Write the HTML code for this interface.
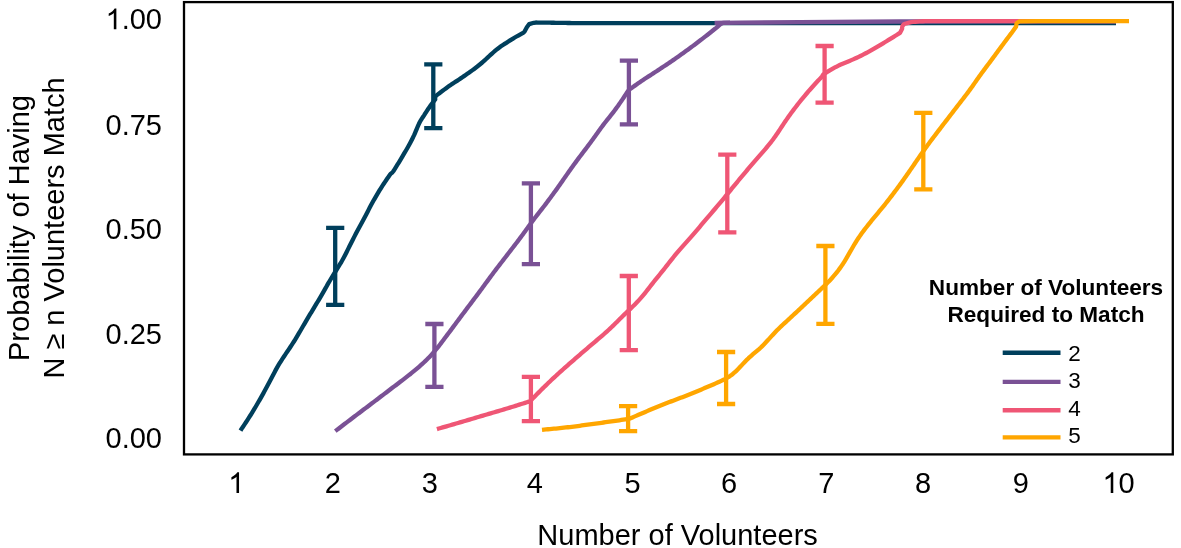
<!DOCTYPE html>
<html><head><meta charset="utf-8"><style>
html,body{margin:0;padding:0;background:#fff;}
body{width:1181px;height:548px;overflow:hidden;}
svg{display:block;will-change:transform;}
text{font-family:"Liberation Sans",sans-serif;fill:#000;}
.t29{font-size:29px;}
.t22{font-size:22.5px;}
.tb{font-size:22.6px;font-weight:bold;}
</style></head><body>
<svg width="1181" height="548" viewBox="0 0 1181 548">
<rect x="184" y="2.1" width="988.8" height="452.3" fill="none" stroke="#000" stroke-width="2.3"/>
<polyline points="240.50,430.60 241.54,428.90 242.67,427.24 243.78,425.58 244.89,423.91 245.99,422.24 247.08,420.56 248.17,418.88 249.24,417.20 250.31,415.50 251.37,413.81 252.42,412.11 253.46,410.40 254.50,408.69 255.52,406.98 256.53,405.25 257.54,403.52 258.54,401.79 259.53,400.06 260.53,398.32 261.51,396.58 262.49,394.84 263.47,393.09 264.43,391.34 265.39,389.58 266.34,387.82 267.28,386.06 268.22,384.30 269.16,382.53 270.08,380.76 271.01,378.98 271.93,377.21 272.85,375.43 273.78,373.66 274.71,371.89 275.65,370.13 276.62,368.38 277.60,366.64 278.61,364.92 279.65,363.21 280.71,361.52 281.79,359.83 282.89,358.16 283.99,356.49 285.10,354.83 286.22,353.17 287.34,351.52 288.46,349.86 289.58,348.20 290.69,346.54 291.79,344.87 292.88,343.19 293.95,341.50 295.01,339.81 296.04,338.10 297.07,336.38 298.09,334.66 299.10,332.94 300.11,331.21 301.12,329.48 302.13,327.76 303.14,326.03 304.14,324.30 305.15,322.58 306.16,320.85 307.18,319.13 308.20,317.41 309.23,315.69 310.26,313.98 311.30,312.27 312.33,310.56 313.36,308.84 314.40,307.13 315.43,305.42 316.46,303.70 317.49,301.99 318.52,300.28 319.55,298.56 320.58,296.84 321.59,295.12 322.60,293.40 323.60,291.66 324.58,289.92 325.56,288.17 326.53,286.42 327.51,284.68 328.51,282.95 329.52,281.23 330.54,279.51 331.57,277.80 332.61,276.10 333.66,274.40 334.71,272.70 335.77,271.01 336.83,269.32 337.89,267.63 338.94,265.93 339.98,264.23 341.01,262.52 342.02,260.79 343.00,259.06 343.96,257.30 344.88,255.53 345.79,253.75 346.68,251.96 347.57,250.16 348.45,248.36 349.34,246.57 350.23,244.78 351.13,242.99 352.02,241.21 352.93,239.42 353.84,237.64 354.75,235.86 355.68,234.09 356.61,232.32 357.56,230.56 358.51,228.80 359.46,227.04 360.42,225.29 361.38,223.53 362.32,221.77 363.27,220.01 364.21,218.24 365.15,216.47 366.07,214.70 366.99,212.92 367.90,211.15 368.82,209.37 369.74,207.59 370.68,205.83 371.62,204.07 372.59,202.32 373.56,200.57 374.56,198.84 375.56,197.11 376.58,195.39 377.60,193.67 378.62,191.95 379.65,190.21 380.70,188.52 381.77,186.84 382.85,185.17 383.94,183.51 385.04,181.86 386.15,180.21 387.27,178.58 388.41,176.96 389.55,175.34 390.71,173.74 392.10,172.80 393.32,171.23 394.40,169.54 395.47,167.85 396.53,166.16 397.58,164.46 398.63,162.76 399.67,161.05 400.71,159.34 401.74,157.63 402.76,155.91 403.77,154.19 404.79,152.46 405.81,150.74 406.83,149.02 407.83,147.29 408.80,145.55 409.76,143.79 410.69,142.03 411.60,140.25 412.49,138.47 413.37,136.67 414.22,134.86 415.02,133.03 415.80,131.18 416.57,129.32 417.33,127.45 418.11,125.60 418.95,123.79 419.85,122.02 420.81,120.30 421.85,118.63 422.94,117.00 424.07,115.37 425.10,113.71 426.15,112.06 427.22,110.42 428.31,108.80 429.42,107.20 430.54,105.61 431.68,104.03 432.84,102.48 434.02,100.93 435.22,99.41 435.10,97.30 436.27,95.58 437.84,94.37 439.42,93.17 441.01,91.98 442.60,90.79 444.20,89.61 445.81,88.44 447.42,87.28 449.05,86.12 450.68,84.98 452.31,83.84 454.00,82.76 455.69,81.69 457.38,80.61 459.06,79.51 460.71,78.39 462.36,77.26 464.01,76.13 465.66,74.99 467.30,73.85 468.94,72.70 470.57,71.54 472.19,70.37 473.81,69.19 475.41,67.99 477.00,66.78 478.57,65.55 480.12,64.29 481.64,63.00 483.15,61.68 484.63,60.34 486.10,58.99 487.57,57.63 489.04,56.27 490.50,54.91 491.98,53.57 493.47,52.24 494.98,50.94 496.52,49.67 498.08,48.44 499.67,47.25 501.29,46.08 502.93,44.96 504.61,43.88 506.32,42.83 507.99,41.74 509.67,40.66 511.35,39.60 513.06,38.56 514.77,37.53 516.49,36.52 518.23,35.53 519.98,34.56 521.74,33.60 523.51,32.66 524.70,31.30 527.00,27.00 529.20,24.10 533.80,22.80 535.79,22.51 537.79,22.54 539.79,22.57 541.78,22.60 543.78,22.63 545.78,22.65 547.78,22.68 549.77,22.71 551.77,22.74 553.77,22.77 555.77,22.80 557.77,22.85 559.79,22.89 561.78,22.92 563.77,22.95 565.76,22.97 567.75,23.00 569.74,23.02 571.72,23.03 573.70,23.05 575.68,23.06 577.66,23.07 579.64,23.08 580.00,23.10 1116.00,23.10" fill="none" stroke="#003f5c" stroke-width="4.3" stroke-linejoin="round" stroke-linecap="butt"/>
<path d="M335.2,227.8V304.8M326.1,227.8H344.3M326.1,304.8H344.3" fill="none" stroke="#003f5c" stroke-width="4.3"/>
<path d="M433.3,64.3V128.1M424.2,64.3H442.4M424.2,128.1H442.4" fill="none" stroke="#003f5c" stroke-width="4.3"/>
<polyline points="335.30,431.10 336.89,429.89 338.48,428.68 340.07,427.46 341.66,426.25 343.25,425.04 344.84,423.83 346.44,422.62 348.03,421.40 349.62,420.19 351.21,418.98 352.81,417.78 354.40,416.57 355.99,415.36 357.59,414.15 359.18,412.94 360.78,411.74 362.37,410.53 363.97,409.33 365.57,408.12 367.16,406.92 368.76,405.71 370.35,404.51 371.95,403.30 373.54,402.09 375.14,400.89 376.73,399.68 378.33,398.47 379.92,397.26 381.51,396.05 383.11,394.84 384.70,393.63 386.29,392.42 387.88,391.21 389.47,390.00 391.07,388.79 392.66,387.58 394.25,386.37 395.85,385.17 397.45,383.97 399.05,382.76 400.64,381.55 402.23,380.34 403.82,379.12 405.40,377.90 406.97,376.67 408.54,375.43 410.11,374.19 411.67,372.93 413.22,371.67 414.77,370.40 416.30,369.12 417.82,367.82 419.33,366.51 420.83,365.19 422.32,363.85 423.80,362.50 425.26,361.13 426.69,359.74 428.11,358.33 429.50,356.90 430.87,355.45 432.21,353.97 433.53,352.47 434.83,350.95 436.10,349.42 437.36,347.86 438.60,346.30 439.84,344.72 441.06,343.14 442.27,341.55 443.47,339.95 444.67,338.34 445.87,336.74 447.07,335.14 448.27,333.54 449.47,331.94 450.67,330.34 451.86,328.73 453.05,327.13 454.24,325.52 455.43,323.91 456.62,322.31 457.82,320.70 459.01,319.10 460.21,317.49 461.40,315.89 462.60,314.29 463.80,312.69 465.00,311.09 466.20,309.49 467.40,307.89 468.61,306.29 469.81,304.70 471.01,303.10 472.21,301.50 473.42,299.90 474.62,298.31 475.82,296.71 477.02,295.11 478.22,293.51 479.42,291.90 480.60,290.29 481.79,288.68 482.97,287.07 484.15,285.45 485.33,283.84 486.51,282.23 487.70,280.61 488.88,279.00 490.07,277.39 491.26,275.79 492.45,274.18 493.65,272.58 494.85,270.98 496.06,269.39 497.27,267.80 498.49,266.21 499.71,264.63 500.93,263.04 502.16,261.46 503.38,259.88 504.60,258.29 505.82,256.71 507.04,255.12 508.26,253.54 509.47,251.95 510.69,250.37 511.92,248.78 513.14,247.20 514.36,245.62 515.59,244.04 516.81,242.45 518.02,240.86 519.23,239.27 520.44,237.67 521.63,236.07 522.81,234.46 523.99,232.84 525.17,231.22 526.34,229.60 527.51,227.98 528.68,226.36 529.86,224.75 531.04,223.14 532.23,221.53 533.43,219.93 534.63,218.33 535.84,216.74 537.06,215.16 538.29,213.58 539.51,212.00 540.75,210.42 541.98,208.85 543.21,207.27 544.43,205.69 545.65,204.10 546.86,202.51 548.06,200.91 549.25,199.30 550.44,197.69 551.62,196.08 552.81,194.47 553.98,192.85 555.16,191.24 556.33,189.62 557.50,187.99 558.66,186.36 559.81,184.72 560.95,183.08 562.09,181.44 563.23,179.80 564.37,178.15 565.52,176.51 566.66,174.88 567.81,173.24 568.97,171.61 570.12,169.98 571.28,168.35 572.44,166.72 573.61,165.09 574.78,163.47 575.96,161.86 577.14,160.24 578.33,158.64 579.53,157.04 580.74,155.44 581.95,153.85 583.16,152.26 584.37,150.67 585.58,149.08 586.79,147.48 587.99,145.89 589.19,144.29 590.38,142.68 591.57,141.08 592.76,139.47 593.93,137.85 595.10,136.23 596.27,134.60 597.43,132.98 598.59,131.35 599.75,129.72 600.92,128.10 602.11,126.49 603.30,124.89 604.51,123.29 605.73,121.71 606.97,120.14 608.23,118.58 609.49,117.03 610.75,115.47 611.99,113.91 613.22,112.33 614.42,110.73 615.60,109.12 616.77,107.50 617.94,105.89 619.09,104.26 620.24,102.63 621.37,101.00 622.49,99.35 623.60,97.70 624.69,96.04 625.78,94.38 626.85,92.71 627.91,91.03 628.70,90.60 630.05,89.09 631.67,87.93 633.30,86.77 634.93,85.62 636.56,84.47 638.20,83.33 639.84,82.19 641.49,81.06 643.14,79.94 644.80,78.82 646.46,77.71 648.15,76.63 649.84,75.56 651.52,74.48 653.20,73.39 654.87,72.30 656.55,71.21 658.22,70.11 659.90,69.02 661.57,67.91 663.23,66.81 664.90,65.71 666.56,64.60 668.23,63.48 669.88,62.36 671.54,61.24 673.19,60.11 674.83,58.97 676.48,57.83 678.11,56.68 679.75,55.53 681.38,54.37 683.00,53.20 684.62,52.03 686.24,50.86 687.85,49.68 689.46,48.49 691.07,47.30 692.67,46.10 694.28,44.91 695.88,43.71 697.48,42.50 699.07,41.30 700.69,40.07 702.27,38.86 703.84,37.64 705.42,36.42 706.98,35.20 708.54,33.98 710.10,32.75 711.65,31.52 713.19,30.28 714.73,29.04 716.27,27.80 717.20,27.00 720.50,24.20 723.00,22.80 740.00,22.70 800.00,22.20 900.00,21.50 1116.00,21.40" fill="none" stroke="#7a5195" stroke-width="4.3" stroke-linejoin="round" stroke-linecap="butt"/>
<line x1="714.6" y1="22.8" x2="730" y2="22.75" stroke="#7a5195" stroke-width="4.3"/>
<path d="M434.4,324.0V386.8M425.3,324.0H443.5M425.3,386.8H443.5" fill="none" stroke="#7a5195" stroke-width="4.3"/>
<path d="M530.9,183.3V264.2M521.8,183.3H540.0M521.8,264.2H540.0" fill="none" stroke="#7a5195" stroke-width="4.3"/>
<path d="M628.9,60.6V124.4M619.8,60.6H638.0M619.8,124.4H638.0" fill="none" stroke="#7a5195" stroke-width="4.3"/>
<polyline points="436.90,429.10 438.82,428.54 440.74,427.99 442.66,427.43 444.58,426.88 446.51,426.32 448.43,425.76 450.35,425.20 452.27,424.65 454.19,424.09 456.11,423.53 458.03,422.97 459.95,422.40 461.87,421.84 463.79,421.28 465.70,420.71 467.62,420.15 469.54,419.58 471.46,419.02 473.38,418.45 475.29,417.88 477.21,417.31 479.13,416.74 481.05,416.18 482.97,415.61 484.88,415.04 486.80,414.48 488.72,413.91 490.64,413.35 492.56,412.78 494.47,412.21 496.39,411.65 498.31,411.08 500.23,410.51 502.14,409.94 504.06,409.37 505.98,408.79 507.89,408.22 509.83,407.63 511.73,407.04 513.64,406.46 515.54,405.86 517.44,405.27 519.33,404.67 521.23,404.07 523.12,403.47 525.01,402.87 526.89,402.26 528.78,401.65 530.10,401.20 531.52,399.79 532.90,398.35 534.30,396.91 535.69,395.48 537.10,394.05 538.50,392.63 539.91,391.21 541.33,389.80 542.75,388.40 544.18,386.99 545.61,385.60 547.04,384.20 548.48,382.81 549.92,381.43 551.37,380.05 552.83,378.68 554.29,377.31 555.76,375.96 557.23,374.60 558.71,373.26 560.20,371.92 561.69,370.59 563.18,369.26 564.68,367.93 566.17,366.60 567.67,365.28 569.17,363.96 570.68,362.64 572.19,361.33 573.70,360.01 575.21,358.71 576.72,357.40 578.23,356.09 579.75,354.78 581.26,353.47 582.78,352.17 584.29,350.87 585.81,349.56 587.33,348.26 588.85,346.96 590.37,345.66 591.89,344.36 593.42,343.07 594.95,341.78 596.48,340.50 598.01,339.21 599.54,337.92 601.06,336.62 602.58,335.32 604.08,334.00 605.58,332.68 607.07,331.35 608.55,330.00 610.01,328.64 611.46,327.27 612.90,325.88 614.33,324.49 615.76,323.08 617.18,321.67 618.59,320.26 620.01,318.84 621.42,317.43 622.84,316.02 624.27,314.62 625.71,313.23 627.16,311.86 628.62,310.48 630.07,309.11 631.52,307.72 632.95,306.33 634.37,304.93 635.78,303.51 637.16,302.07 638.52,300.61 639.86,299.14 641.18,297.64 642.47,296.12 643.75,294.58 645.01,293.03 646.26,291.47 647.49,289.90 648.72,288.32 649.94,286.73 651.17,285.15 652.40,283.57 653.65,282.01 654.90,280.45 656.16,278.90 657.41,277.34 658.67,275.79 659.93,274.23 661.19,272.68 662.44,271.12 663.70,269.56 664.94,268.00 666.18,266.43 667.41,264.85 668.65,263.27 669.88,261.70 671.11,260.13 672.35,258.56 673.60,257.00 674.86,255.44 676.12,253.89 677.40,252.36 678.69,250.83 680.00,249.32 681.32,247.82 682.64,246.32 683.98,244.83 685.32,243.34 686.66,241.86 687.99,240.37 689.33,238.89 690.66,237.39 691.98,235.89 693.29,234.38 694.60,232.86 695.89,231.34 697.19,229.82 698.48,228.29 699.76,226.76 701.05,225.22 702.33,223.69 703.62,222.16 704.91,220.63 706.20,219.11 707.50,217.59 708.81,216.07 710.11,214.55 711.41,213.04 712.72,211.52 714.02,210.00 715.32,208.49 716.62,206.96 717.91,205.44 719.20,203.91 720.49,202.38 721.77,200.84 723.05,199.30 724.32,197.76 725.59,196.22 726.86,194.67 728.12,193.12 729.39,191.57 730.66,190.02 731.92,188.48 733.19,186.93 734.46,185.38 735.73,183.84 737.00,182.29 738.27,180.75 739.54,179.21 740.82,177.67 742.10,176.13 743.38,174.59 744.66,173.06 745.95,171.53 747.24,170.00 748.53,168.47 749.82,166.95 751.12,165.42 752.42,163.90 753.72,162.38 755.02,160.87 756.33,159.35 757.63,157.83 758.94,156.32 760.25,154.81 761.57,153.31 762.89,151.80 764.21,150.30 765.52,148.79 766.82,147.27 768.10,145.73 769.37,144.19 770.62,142.63 771.84,141.05 773.04,139.46 774.22,137.85 775.37,136.22 776.51,134.58 777.63,132.93 778.74,131.27 779.85,129.60 780.94,127.93 782.04,126.25 783.14,124.58 784.25,122.91 785.36,121.25 786.50,119.61 787.64,117.97 788.80,116.33 789.96,114.71 791.14,113.09 792.33,111.48 793.53,109.89 794.74,108.29 795.95,106.70 797.17,105.12 798.40,103.54 799.63,101.97 800.89,100.41 802.15,98.86 803.42,97.32 804.70,95.78 806.00,94.26 807.30,92.74 808.60,91.22 809.92,89.72 811.24,88.22 812.56,86.72 813.90,85.24 815.24,83.76 816.60,82.29 817.95,80.82 819.32,79.36 820.70,77.91 822.00,76.50 823.15,74.64 824.79,73.54 826.44,72.47 828.11,71.43 829.80,70.40 831.50,69.40 833.22,68.42 834.95,67.47 836.69,66.53 838.45,65.62 840.22,64.74 842.07,63.97 843.94,63.22 845.80,62.48 847.66,61.72 849.50,60.94 851.33,60.15 853.17,59.36 855.00,58.55 856.82,57.72 858.63,56.87 860.43,56.00 862.22,55.11 864.00,54.20 865.77,53.28 867.54,52.34 869.30,51.40 871.04,50.44 872.78,49.46 874.51,48.46 876.23,47.44 877.95,46.42 879.66,45.39 881.37,44.35 883.10,43.31 884.81,42.28 886.51,41.24 888.21,40.21 889.90,39.17 891.59,38.13 893.28,37.08 894.96,36.03 896.63,34.98 898.31,33.92 899.97,32.86 900.20,32.60 902.00,29.10 902.40,26.00 904.20,24.00 909.30,22.60 911.27,22.22 913.25,21.97 915.23,21.75 917.22,21.57 919.21,21.43 921.21,21.34 923.20,21.26 925.18,21.20 927.17,21.18 929.15,21.18 930.00,21.10 1116.00,21.10" fill="none" stroke="#ef5675" stroke-width="4.3" stroke-linejoin="round" stroke-linecap="butt"/>
<path d="M530.9,376.8V421.2M521.8,376.8H540.0M521.8,421.2H540.0" fill="none" stroke="#ef5675" stroke-width="4.3"/>
<path d="M628.8,276.0V350.1M619.7,276.0H637.9M619.7,350.1H637.9" fill="none" stroke="#ef5675" stroke-width="4.3"/>
<path d="M727.3,154.6V232.4M718.2,154.6H736.4M718.2,232.4H736.4" fill="none" stroke="#ef5675" stroke-width="4.3"/>
<path d="M824.6,46.0V102.6M815.5,46.0H833.7M815.5,102.6H833.7" fill="none" stroke="#ef5675" stroke-width="4.3"/>
<polyline points="542.00,429.80 543.99,429.58 545.98,429.42 547.97,429.25 549.97,429.08 551.96,428.90 553.95,428.71 555.94,428.52 557.93,428.32 559.92,428.12 561.91,427.91 563.90,427.70 565.89,427.48 567.87,427.26 569.86,427.03 571.85,426.79 573.83,426.55 575.81,426.29 577.80,426.03 579.78,425.76 581.76,425.48 583.74,425.20 585.72,424.92 587.70,424.65 589.68,424.38 591.67,424.12 593.65,423.85 595.63,423.58 597.61,423.31 599.59,423.04 601.57,422.77 603.56,422.50 605.54,422.23 607.54,421.96 609.51,421.68 611.49,421.40 613.46,421.12 615.43,420.84 617.40,420.55 619.37,420.27 621.33,419.98 623.30,419.69 625.26,419.40 627.22,419.11 628.70,418.90 630.59,418.24 632.43,417.44 634.26,416.64 636.09,415.85 637.93,415.06 639.77,414.27 641.61,413.48 643.45,412.69 645.29,411.91 647.13,411.13 648.97,410.35 650.80,409.56 652.64,408.76 654.48,407.98 656.32,407.20 658.17,406.44 660.02,405.69 661.88,404.95 663.74,404.22 665.61,403.50 667.48,402.79 669.35,402.08 671.22,401.38 673.09,400.68 674.97,399.98 676.84,399.28 678.71,398.57 680.58,397.86 682.44,397.13 684.31,396.41 686.17,395.68 688.03,394.94 689.89,394.21 691.74,393.46 693.60,392.71 695.45,391.96 697.30,391.20 699.15,390.44 701.00,389.67 702.84,388.89 704.68,388.10 706.52,387.31 708.36,386.53 710.20,385.75 712.04,384.96 713.87,384.16 715.71,383.37 717.55,382.56 719.39,381.74 721.20,380.90 723.01,380.02 724.79,379.12 726.54,378.16 728.26,377.16 729.93,376.08 731.53,374.94 733.08,373.72 734.59,372.44 736.05,371.11 737.47,369.72 738.86,368.30 740.23,366.84 741.58,365.38 742.94,363.91 744.30,362.46 745.68,361.01 747.07,359.58 748.51,358.20 749.98,356.86 751.48,355.54 752.99,354.23 754.52,352.94 756.05,351.66 757.58,350.37 759.09,349.06 760.56,347.71 761.99,346.33 763.40,344.92 764.79,343.49 766.16,342.04 767.52,340.58 768.87,339.11 770.21,337.63 771.55,336.15 772.90,334.68 774.25,333.21 775.62,331.75 777.01,330.32 778.43,328.91 779.87,327.52 781.32,326.15 782.78,324.78 784.25,323.42 785.73,322.07 787.20,320.72 788.68,319.37 790.14,318.01 791.61,316.65 793.08,315.29 794.54,313.93 796.01,312.57 797.47,311.20 798.93,309.84 800.39,308.47 801.85,307.10 803.30,305.73 804.76,304.36 806.21,302.99 807.67,301.62 809.13,300.25 810.59,298.88 812.05,297.51 813.51,296.14 814.96,294.77 816.42,293.40 817.88,292.04 819.34,290.67 820.80,289.30 822.25,287.92 823.69,286.53 825.12,285.13 826.55,283.73 827.96,282.31 829.35,280.88 830.72,279.42 832.07,277.95 833.39,276.45 834.69,274.93 835.96,273.40 837.21,271.84 838.44,270.26 839.63,268.65 840.79,267.03 841.92,265.38 843.03,263.72 844.10,262.03 845.15,260.33 846.18,258.62 847.19,256.89 848.19,255.16 849.18,253.42 850.17,251.69 851.17,249.95 852.17,248.22 853.17,246.49 854.19,244.77 855.22,243.06 856.28,241.36 857.36,239.69 858.47,238.02 859.60,236.37 860.74,234.74 861.91,233.11 863.09,231.50 864.29,229.90 865.51,228.31 866.73,226.73 867.96,225.15 869.20,223.58 870.46,222.03 871.72,220.48 872.99,218.93 874.26,217.39 875.54,215.84 876.81,214.30 878.09,212.77 879.37,211.23 880.65,209.69 881.92,208.15 883.19,206.60 884.44,205.04 885.69,203.48 886.92,201.91 888.16,200.33 889.38,198.75 890.61,197.17 891.82,195.58 893.03,193.99 894.24,192.40 895.44,190.80 896.64,189.20 897.83,187.59 899.01,185.98 900.19,184.36 901.36,182.74 902.53,181.12 903.69,179.49 904.85,177.86 906.00,176.22 907.14,174.58 908.28,172.94 909.42,171.29 910.55,169.65 911.69,168.00 912.82,166.35 913.94,164.70 915.07,163.04 916.19,161.39 917.32,159.74 918.45,158.09 919.59,156.45 920.74,154.81 921.88,153.17 923.04,151.54 924.20,149.91 925.36,148.28 926.53,146.66 927.70,145.04 928.88,143.43 930.08,141.82 931.28,140.23 932.48,138.63 933.70,137.04 934.91,135.45 936.12,133.86 937.33,132.27 938.54,130.67 939.76,129.08 940.97,127.49 942.19,125.91 943.40,124.32 944.62,122.73 945.84,121.15 947.06,119.57 948.28,117.98 949.50,116.40 950.72,114.81 951.94,113.22 953.16,111.64 954.37,110.05 955.59,108.46 956.81,106.88 958.03,105.29 959.26,103.71 960.48,102.13 961.71,100.55 962.94,98.97 964.16,97.39 965.37,95.80 966.58,94.21 967.78,92.61 968.97,91.00 970.14,89.38 971.31,87.76 972.47,86.13 973.62,84.50 974.77,82.86 975.92,81.23 977.07,79.59 978.23,77.96 979.39,76.33 980.55,74.70 981.72,73.08 982.90,71.47 984.09,69.86 985.28,68.25 986.48,66.65 987.68,65.05 988.88,63.45 990.08,61.85 991.27,60.25 992.47,58.64 993.65,57.03 994.84,55.42 996.02,53.81 997.20,52.19 998.39,50.57 999.58,48.96 1000.77,47.36 1001.95,45.76 1003.14,44.16 1004.33,42.56 1005.51,40.97 1006.70,39.37 1007.89,37.78 1009.08,36.19 1010.26,34.60 1011.20,33.40 1016.00,26.80 1016.60,23.30 1019.50,21.30 1038.00,21.20 1129.00,21.20" fill="none" stroke="#ffa600" stroke-width="4.3" stroke-linejoin="round" stroke-linecap="butt"/>
<path d="M628.1,406.2V431.2M619.0,406.2H637.2M619.0,431.2H637.2" fill="none" stroke="#ffa600" stroke-width="4.3"/>
<path d="M726.1,352.0V404.0M717.0,352.0H735.2M717.0,404.0H735.2" fill="none" stroke="#ffa600" stroke-width="4.3"/>
<path d="M825.4,246.0V323.9M816.3,246.0H834.5M816.3,323.9H834.5" fill="none" stroke="#ffa600" stroke-width="4.3"/>
<path d="M923.3,112.8V189.3M914.2,112.8H932.4M914.2,189.3H932.4" fill="none" stroke="#ffa600" stroke-width="4.3"/>
<path d="M116.36,29.20L113.81,29.20L113.81,12.96Q112.89,13.84 111.39,14.71Q109.89,15.59 108.71,16.03L108.71,13.57Q110.82,12.58 112.41,11.16Q113.99,9.74 114.66,8.44L116.36,8.44Z" fill="#000"/>
<text x="121.68" y="29.2" class="t29">.00</text>
<text x="162" y="134.9" text-anchor="end" class="t29">0.75</text>
<text x="162" y="238.9" text-anchor="end" class="t29">0.50</text>
<text x="162" y="343.9" text-anchor="end" class="t29">0.25</text>
<text x="162" y="448.4" text-anchor="end" class="t29">0.00</text>
<text x="332.7" y="492.9" text-anchor="middle" class="t29">2</text>
<text x="429.8" y="492.9" text-anchor="middle" class="t29">3</text>
<text x="534.9" y="492.9" text-anchor="middle" class="t29">4</text>
<text x="632.5" y="492.9" text-anchor="middle" class="t29">5</text>
<text x="729.1" y="492.9" text-anchor="middle" class="t29">6</text>
<text x="826.4" y="492.9" text-anchor="middle" class="t29">7</text>
<text x="923.1" y="492.9" text-anchor="middle" class="t29">8</text>
<text x="1020.9" y="492.9" text-anchor="middle" class="t29">9</text>
<path d="M239.04,492.90L236.49,492.90L236.49,476.66Q235.57,477.54 234.07,478.41Q232.57,479.29 231.40,479.73L231.40,477.27Q233.51,476.28 235.09,474.86Q236.68,473.44 237.34,472.14L239.04,472.14Z" fill="#000"/>
<path d="M1113.28,492.90L1110.73,492.90L1110.73,476.66Q1109.81,477.54 1108.31,478.41Q1106.81,479.29 1105.63,479.73L1105.63,477.27Q1107.74,476.28 1109.33,474.86Q1110.92,473.44 1111.58,472.14L1113.28,472.14Z" fill="#000"/>
<text x="1118.60" y="492.9" class="t29">0</text>
<text x="677.6" y="545" text-anchor="middle" class="t29">Number of Volunteers</text>
<text transform="translate(28.9,228) rotate(-90)" x="0" y="0" text-anchor="middle" class="t29">Probability of Having</text>
<text transform="translate(64.1,228) rotate(-90)" x="0" y="0" text-anchor="middle" class="t29">N ≥ n Volunteers Match</text>
<text x="1046" y="294.8" text-anchor="middle" class="tb">Number of Volunteers</text>
<text x="1046" y="322.3" text-anchor="middle" class="tb">Required to Match</text>
<line x1="1002.7" y1="352.7" x2="1060.5" y2="352.7" stroke="#003f5c" stroke-width="4.4"/>
<text x="1068.3" y="361.3" class="t22">2</text>
<line x1="1002.7" y1="381.9" x2="1060.5" y2="381.9" stroke="#7a5195" stroke-width="4.4"/>
<text x="1068.3" y="388.2" class="t22">3</text>
<line x1="1002.7" y1="410.2" x2="1060.5" y2="410.2" stroke="#ef5675" stroke-width="4.4"/>
<text x="1068.3" y="415.5" class="t22">4</text>
<line x1="1002.7" y1="437.4" x2="1060.5" y2="437.4" stroke="#ffa600" stroke-width="4.4"/>
<text x="1068.3" y="442.7" class="t22">5</text>
</svg>
</body></html>
